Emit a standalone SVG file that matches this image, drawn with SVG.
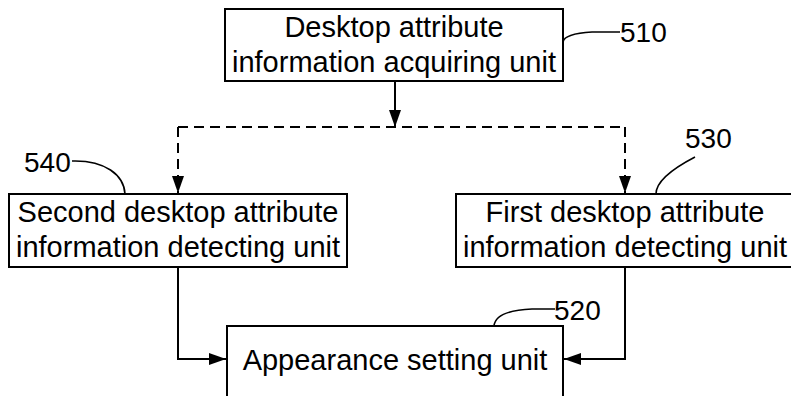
<svg xmlns="http://www.w3.org/2000/svg" width="791" height="396" viewBox="0 0 791 396">
<style>
.box{fill:#fff;stroke:#000;stroke-width:2}
.t{font-family:"Liberation Sans",Arial,sans-serif;font-size:29px;fill:#000;text-anchor:middle}
.n{font-family:"Liberation Sans",Arial,sans-serif;font-size:28px;fill:#000}
.c{fill:none;stroke:#000;stroke-width:2}
.d{fill:none;stroke:#000;stroke-width:2;stroke-dasharray:10 6}
.l{fill:none;stroke:#000;stroke-width:1.6}
</style>
<defs>
<marker id="ah" viewBox="0 0 17 12" refX="17" refY="6" markerWidth="17" markerHeight="12" markerUnits="userSpaceOnUse" orient="auto">
<path d="M0,0 L17,6 L0,12 Z" fill="#000"/>
</marker>
</defs>
<g id="connectors">
<path class="c" d="M395,81 V127" marker-end="url(#ah)"/>
<path class="d" d="M178,127 H625"/>
<path class="d" d="M178,127 V193" marker-end="url(#ah)"/>
<path class="d" d="M625,127 V193" marker-end="url(#ah)"/>
<path class="c" d="M178,267 V359 H226" marker-end="url(#ah)"/>
<path class="c" d="M625,267 V359 H564" marker-end="url(#ah)"/>
</g>
<g id="n510">
<rect class="box" x="225" y="9" width="338" height="72"/>
<text class="t" x="394" y="37">Desktop attribute</text>
<text class="t" x="394" y="72">information acquiring unit</text>
<path class="l" d="M620,32 L592,32 C575,33 564,36 563,42"/>
<text class="n" x="620" y="42">510</text>
</g>
<g id="n540">
<rect class="box" x="9" y="194" width="338" height="73"/>
<text class="t" x="178" y="222">Second desktop attribute</text>
<text class="t" x="178" y="257">information detecting unit</text>
<path class="l" d="M72,161 C105,160 124,175 125,194"/>
<text class="n" x="24" y="172">540</text>
</g>
<g id="n530">
<rect class="box" x="456" y="194" width="338" height="73"/>
<text class="t" x="625" y="222">First desktop attribute</text>
<text class="t" x="625" y="257">information detecting unit</text>
<path class="l" d="M695,157 C670,170 656,182 656,194"/>
<text class="n" x="685" y="148">530</text>
</g>
<g id="n520">
<rect class="box" x="227" y="326" width="336" height="80"/>
<text class="t" x="395" y="370">Appearance setting unit</text>
<path class="l" d="M555,309 L532,309 C507,310 495,316 494,326"/>
<text class="n" x="554" y="320">520</text>
</g>
</svg>
